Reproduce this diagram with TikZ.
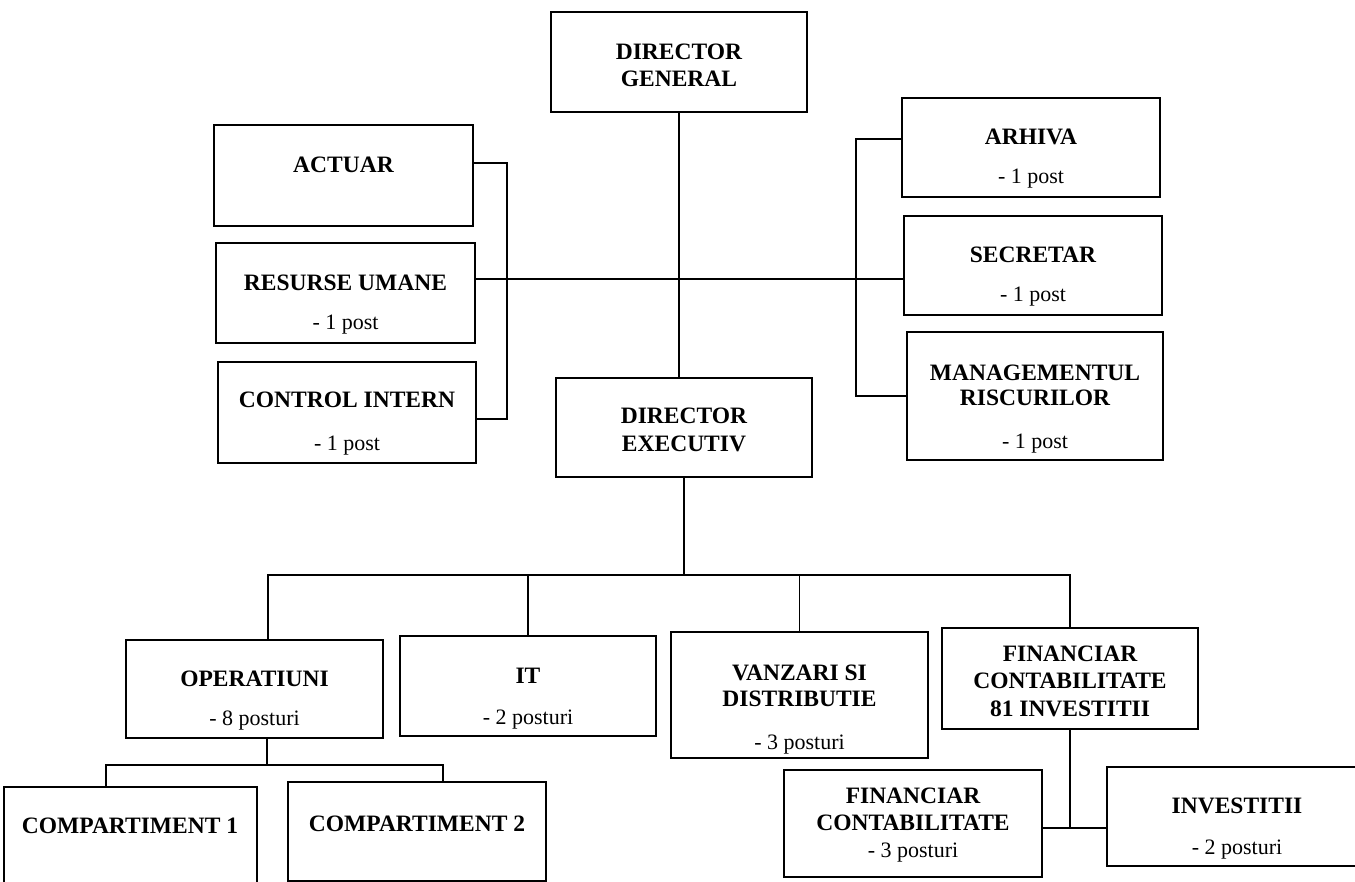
\documentclass[tikz,border=0pt]{standalone}
\usepackage{fontspec}
\setmainfont{Liberation Serif}
\tikzset{
  box/.style={draw, line width=1.5pt, inner sep=0pt},
  conn/.style={draw, line width=1.4pt},
  ttl/.style={font=\fontsize{23.5}{27}\selectfont\bfseries, inner sep=0pt, anchor=base},
  pst/.style={font=\fontsize{22}{25}\selectfont, inner sep=0pt, anchor=base}
}
\newcommand\mkbox[5]{\node[box, minimum width={(#4-#2)*1pt}, minimum height={(#5-#3)*1pt}] (#1) at ({(#2+#4)/2},{(#3+#5)/2}) {};}
\newcommand\tl[5]{\node[#2] (#1) at (#3.center |- 0,#4) {#5};}
\begin{document}
\begin{tikzpicture}[x=1pt,y=-1pt]
\useasboundingbox (0,0) rectangle (1355,882);
\clip (0,0) rectangle (1355,882);
% boxes
\mkbox{dg}{551}{12}{807}{112}
\mkbox{act}{214}{125}{473}{226}
\mkbox{hr}{216}{243}{475}{343}
\mkbox{ci}{218}{362}{476}{463}
\mkbox{de}{556}{378}{812}{477}
\mkbox{arh}{902}{98}{1160}{197}
\mkbox{sec}{904}{216}{1162}{315}
\mkbox{mr}{907}{332}{1163}{460}
\mkbox{op}{126}{640}{383}{738}
\mkbox{it}{400}{636}{656}{736}
\mkbox{vz}{671}{632}{928}{758}
\mkbox{fci}{942}{628}{1198}{729}
\mkbox{cpa}{4}{787}{257}{900}
\mkbox{cpb}{288}{782}{546}{881}
\mkbox{fc}{784}{770}{1042}{877}
\mkbox{inv}{1107}{767}{1367}{866}
% texts
\tl{dg1}{ttl}{dg}{60}{DIRECTOR}
\tl{dg2}{ttl}{dg}{87}{GENERAL}
\tl{act1}{ttl}{act}{173}{ACTUAR}
\tl{hr1}{ttl}{hr}{291}{RESURSE UMANE}
\tl{hr2}{pst}{hr}{330}{- 1 post}
\tl{ci1}{ttl}{ci}{408}{CONTROL INTERN}
\tl{ci2}{pst}{ci}{450}{- 1 post}
\tl{de1}{ttl}{de}{424}{DIRECTOR}
\tl{de2}{ttl}{de}{451}{EXECUTIV}
\tl{arh1}{ttl}{arh}{145}{ARHIVA}
\tl{arh2}{pst}{arh}{184}{- 1 post}
\tl{sec1}{ttl}{sec}{263}{SECRETAR}
\tl{sec2}{pst}{sec}{302}{- 1 post}
\tl{mr1}{ttl}{mr}{381}{MANAGEMENTUL}
\tl{mr2}{ttl}{mr}{406}{RISCURILOR}
\tl{mr3}{pst}{mr}{449}{- 1 post}
\tl{op1}{ttl}{op}{686}{OPERATIUNI}
\tl{op2}{pst}{op}{725}{- 8 posturi}
\tl{it1}{ttl}{it}{683}{IT}
\tl{it2}{pst}{it}{724}{- 2 posturi}
\tl{vz1}{ttl}{vz}{680}{VANZARI SI}
\tl{vz2}{ttl}{vz}{706}{DISTRIBUTIE}
\tl{vz3}{pst}{vz}{749}{- 3 posturi}
\tl{fci1}{ttl}{fci}{661}{FINANCIAR}
\tl{fci2}{ttl}{fci}{688}{CONTABILITATE}
\tl{fci3}{ttl}{fci}{716}{81 INVESTITII}
\node[ttl] (cpa1) at (130,833) {COMPARTIMENT 1};
\tl{cpb1}{ttl}{cpb}{831}{COMPARTIMENT 2}
\tl{fc1}{ttl}{fc}{803}{FINANCIAR}
\tl{fc2}{ttl}{fc}{830}{CONTABILITATE}
\tl{fc3}{pst}{fc}{857}{- 3 posturi}
\tl{inv1}{ttl}{inv}{813}{INVESTITII}
\tl{inv2}{pst}{inv}{854}{- 2 posturi}
% junction coordinates
\coordinate (lb) at (507,279);
\coordinate (rb) at (856,279);
\coordinate (bus) at (685,575);
\coordinate (sbus) at (267,765);
\coordinate (fj) at (1071,828);
% connectors
\draw[conn] (dg.south) -- (dg.south |- de.north);
\draw[conn] (hr.east |- lb) -- (sec.west |- rb);
\draw[conn] ([yshift=12.5pt]act.east) -| (lb) |- ([yshift=-6.5pt]ci.east);
\draw[conn] ([yshift=8.5pt]arh.west) -| (rb) |- (mr.west);
\draw[conn] (de.south) -- (de.south |- bus);
\draw[conn] ([xshift=13.5pt]op.north) |- (bus) -| (fci.north);
\draw[conn] (it.north) -- (it.north |- bus);
\draw[conn] (vz.north) -- (vz.north |- bus);
\draw[conn] ([xshift=12.5pt]op.south) -- ([xshift=12.5pt]op.south |- sbus);
\draw[conn] ([xshift=-24.5pt]cpa.north) |- (sbus) -| ([xshift=26pt]cpb.north);
\draw[conn] (fci.south) -- (fci.south |- fj);
\draw[conn] (fc.east |- fj) -- (inv.west |- fj);
\end{tikzpicture}
\end{document}
